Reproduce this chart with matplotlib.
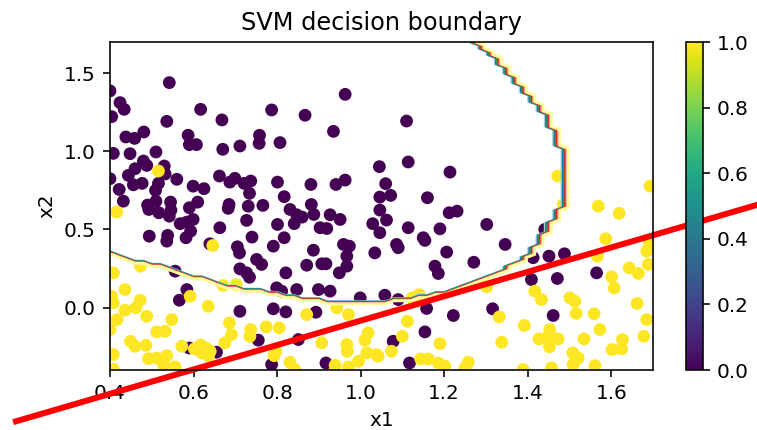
import numpy as np
import matplotlib
matplotlib.use('Agg')
import matplotlib.pyplot as plt
from matplotlib.path import Path
from matplotlib.ticker import MultipleLocator

# class 0 samples (x1, x2)
neg_x1 = [0.542, 0.963, 0.424, 0.434, 0.404, 0.617, 0.787, 0.867, 0.536, 0.668, 0.935, 0.438,
          0.459, 0.481, 0.587, 0.590, 0.607, 0.670, 0.711, 0.758, 0.757, 0.807, 0.408, 0.448,
          0.510, 0.480, 0.488, 0.460, 0.530, 0.532, 0.444, 0.400, 0.560, 0.516, 0.456, 0.477,
          0.509, 0.422, 0.432, 0.490, 0.493, 0.510, 0.545, 0.546, 0.517, 0.542, 0.590, 0.610,
          0.599, 0.625, 0.662, 0.687, 0.699, 0.721, 0.737, 0.734, 0.801, 0.817, 0.881, 0.941,
          0.963, 0.685, 0.683, 0.731, 0.766, 0.831, 0.847, 0.860, 0.882, 0.888, 0.927, 0.951,
          1.029, 1.045, 1.046, 1.046, 0.727, 0.568, 0.584, 0.599, 0.663, 0.801, 0.841, 0.903,
          0.919, 0.400,
          0.494, 0.538, 0.536, 0.582, 0.593, 0.639, 0.705, 0.710, 0.740, 0.791, 0.817, 0.751,
          0.763, 0.711, 0.727, 0.734, 0.821, 0.871, 0.907, 0.917, 0.887, 0.959, 0.973, 0.967,
          0.967, 0.949, 1.034, 1.046, 0.556, 0.584, 0.566, 0.799, 0.811, 0.847, 0.899, 0.927,
          0.999, 0.711, 0.791, 0.821, 0.893, 0.755, 0.851, 0.590, 0.655, 0.787, 0.917,
          1.110, 1.114, 1.214, 1.060, 1.072, 1.160, 1.062, 1.212, 1.231, 1.114, 1.190, 1.302,
          1.441,
          1.086, 1.090, 1.150, 1.154, 1.206, 1.178, 1.186, 1.271, 1.346, 1.413, 1.451, 1.488,
          1.409, 1.471, 1.565, 1.058, 1.090, 1.158, 1.222, 1.316, 1.461, 1.154, 1.078, 1.117]
neg_x2 = [1.440, 1.365, 1.312, 1.269, 1.222, 1.269, 1.265, 1.231, 1.192, 1.201, 1.128, 1.092,
          1.083, 1.124, 1.103, 1.043, 1.043, 1.013, 1.034, 1.103, 1.051, 1.056, 0.987, 0.985,
          0.996, 0.938, 0.910, 0.889, 0.906, 0.855, 0.846, 0.825, 0.821, 0.795, 0.786, 0.795,
          0.750, 0.756, 0.681, 0.656, 0.628, 0.681, 0.675, 0.624, 0.607, 0.585, 0.639, 0.675,
          0.777, 0.761, 0.842, 0.803, 0.827, 0.795, 0.810, 0.731, 0.803, 0.710, 0.788, 0.788,
          0.816, 0.660, 0.635, 0.649, 0.654, 0.628, 0.594, 0.579, 0.660, 0.596, 0.594, 0.564,
          0.537, 0.902, 0.707, 0.624, 0.558, 0.537, 0.547, 0.564, 0.511, 0.532, 0.537, 0.511,
          0.506, 1.387,
          0.457, 0.462, 0.425, 0.447, 0.489, 0.408, 0.389, 0.350, 0.451, 0.393, 0.447, 0.308,
          0.276, 0.248, 0.222, 0.194, 0.222, 0.271, 0.280, 0.280, 0.367, 0.404, 0.393, 0.329,
          0.265, 0.222, 0.350, 0.479, 0.233, 0.115, 0.047, 0.126, 0.105, 0.115, 0.115, 0.105,
          0.062, -0.024, -0.008, -0.028, -0.030, -0.209, -0.205, -0.259, -0.286, -0.365, -0.355,
          1.194, 0.932, 0.867, 0.793, 0.718, 0.703, 0.560, 0.607, 0.617, 0.511, 0.504, 0.532,
          0.500,
          0.404, 0.383, 0.447, 0.430, 0.355, 0.265, 0.218, 0.290, 0.404, 0.319, 0.329, 0.344,
          0.179, 0.186, 0.222, 0.079, 0.051, -0.006, -0.051, -0.008, -0.051, -0.156, -0.216, -0.355]

# class 1 samples (x1, x2)
pos_x1 = [0.516, 0.416, 0.646,
          0.408, 0.473, 0.436, 0.404, 0.408, 0.436, 0.462, 0.472, 0.488, 0.417, 0.400, 0.512,
          0.532, 0.548, 0.449, 0.460, 0.486, 0.408, 0.492, 0.512, 0.536, 0.528, 0.556, 0.572,
          0.602, 0.617, 0.630, 0.640, 0.636, 0.620, 0.635, 0.671, 0.702, 0.592, 0.686, 0.691,
          0.675, 0.737, 0.735, 0.774, 0.805, 0.797, 0.793, 0.831, 0.843, 0.907, 0.939, 0.967,
          0.968, 0.971, 0.995, 1.015, 1.038, 1.018, 1.010, 0.871, 0.943, 0.971, 0.408,
          1.472, 1.569, 1.619, 1.693, 1.485,
          1.587, 1.691, 1.685, 1.567, 1.643, 1.665, 1.689, 1.601, 1.607, 1.417, 1.433, 1.501,
          1.513, 1.516, 1.559, 1.662, 1.685, 1.573, 1.535, 1.453, 1.449, 1.473, 1.452, 1.427,
          1.392, 1.332, 1.338, 1.302, 1.140, 1.124, 1.112, 1.100, 1.074, 1.042, 1.144, 1.162,
          1.186, 1.202, 1.190, 1.258, 1.250, 1.389, 1.457, 1.508, 1.521, 1.509, 1.561, 1.602,
          1.625, 1.627, 1.678]
pos_x2 = [0.874, 0.611, 0.397,
          0.222, 0.265, 0.115, 0.072, 0.030, -0.017, -0.002, 0.047, -0.056, -0.077, -0.141, -0.156,
          -0.152, -0.077, -0.216, -0.248, -0.242, -0.301, -0.327, -0.323, -0.308, -0.365, -0.380, -0.248,
          -0.265, -0.240, -0.260, -0.280, -0.310, -0.290, 0.008, 0.141, 0.147, 0.072, -0.098, -0.173,
          -0.226, -0.141, -0.184, -0.124, -0.130, -0.280, -0.308, -0.350, -0.397, -0.226, -0.370, -0.237,
          -0.280, -0.380, -0.344, -0.290, -0.301, -0.162, -0.209, -0.045, -0.002, -0.045, -0.395,
          0.842, 0.649, 0.603, 0.778, 0.660,
          0.440, 0.415, 0.361, 0.329, 0.254, 0.218, 0.276, 0.197, 0.126, 0.105, 0.051, 0.062,
          0.040, -0.038, -0.040, 0.026, -0.077, -0.141, -0.201, -0.141, -0.184, -0.201, -0.252, -0.201,
          -0.115, -0.060, -0.222, 0.133, 0.083, 0.062, -0.088, -0.184, -0.280, -0.312, -0.329, -0.329,
          -0.355, -0.376, -0.231, -0.350, -0.386, -0.397, -0.386, -0.290, -0.323, -0.365, -0.372, -0.269,
          -0.265, -0.205, -0.184]

# outline of the region the classifier labels 0
region_x1 = [0.30, 0.40, 0.47, 0.54, 0.61, 0.66, 0.74, 0.81, 0.87, 0.95, 1.05, 1.13, 1.19, 1.26,
             1.33, 1.37, 1.41, 1.44, 1.46, 1.48, 1.495, 1.50, 1.495, 1.47, 1.44, 1.40, 1.36, 1.32,
             1.27, 1.22, 0.30]
region_x2 = [0.40, 0.35, 0.29, 0.25, 0.19, 0.15, 0.11, 0.08, 0.05, 0.03, 0.03, 0.06, 0.09, 0.14,
             0.21, 0.28, 0.34, 0.46, 0.54, 0.62, 0.69, 0.76, 0.93, 1.10, 1.25, 1.38, 1.50, 1.62,
             1.71, 1.80, 1.80]

# separating line x2 = slope * x1 + intercept
line_slope = 0.781
line_intercept = -0.865
line_x1 = [0.175, 2.10]

X = np.column_stack([neg_x1 + pos_x1, neg_x2 + pos_x2])
y = np.array([0] * len(neg_x1) + [1] * len(pos_x1))

# predicted labels on a mesh
h = 0.02
xx, yy = np.meshgrid(np.arange(0.36, 1.74, h), np.arange(-0.44, 1.74, h))
region = Path(np.column_stack([region_x1, region_x2]))
Z = 1 - region.contains_points(np.c_[xx.ravel(), yy.ravel()]).astype(float)
Z = Z.reshape(xx.shape)

dpi = 144
fig = plt.figure(figsize=(757 / dpi, 430 / dpi), dpi=dpi)
ax = fig.add_axes([0.1453, 0.1395, 0.7173, 0.7628])
cax = fig.add_axes([0.9062, 0.1395, 0.0225, 0.7628])

levels = [0.1, 0.25, 0.4, 0.55, 0.7, 0.85]
colors = ['#a6cee3', '#1f78b4', '#33a02c', '#e31a1c', '#fb9a99', '#ffff99']
ax.contour(xx, yy, Z, levels=levels, colors=colors, linewidths=1.4)

sc = ax.scatter(X[:, 0], X[:, 1], c=y, cmap='viridis', s=29)
fig.colorbar(sc, cax=cax)

xs = np.array(line_x1)
ax.plot(xs, line_slope * xs + line_intercept, color='red', linewidth=3.0, clip_on=False)

ax.set_xlim(0.4, 1.7)
ax.set_ylim(-0.4, 1.7)
ax.yaxis.set_major_locator(MultipleLocator(0.5))
ax.set_xlabel('x1')
ax.set_ylabel('x2')
ax.set_title('SVM decision boundary')

fig.savefig('out.png', dpi=dpi)
